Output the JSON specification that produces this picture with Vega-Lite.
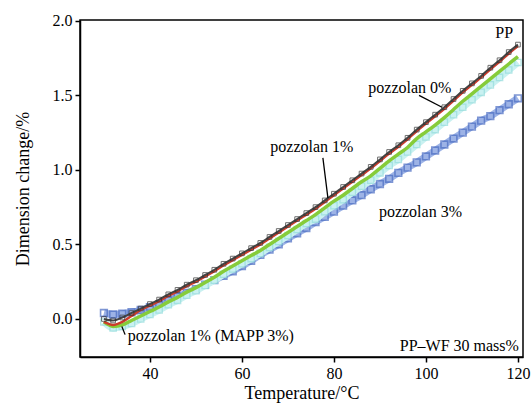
{
  "$schema": "https://vega.github.io/schema/vega-lite/v6.json",
  "width": 443,
  "height": 337,
  "autosize": "none",
  "padding": {"left": 80, "top": 20, "right": 8, "bottom": 49},
  "background": "white",
  "config": {
    "view": {"stroke": "black", "strokeWidth": 1.5},
    "axis": {"domainColor": "black", "domainWidth": 1.5, "tickColor": "black", "tickWidth": 1.5, "tickSize": 5, "labelFont": "Liberation Serif", "labelFontSize": 16, "labelColor": "black", "titleFont": "Liberation Serif", "titleFontSize": 18, "titleFontWeight": "normal", "titleColor": "black", "grid": false, "labelPadding": 3}
  },
  "datasets": {
    "curves": [
      {"T": 30, "PP": 0.00, "p0": -0.02, "p1": -0.02, "mapp": -0.02, "p3": 0.04},
      {"T": 32, "PP": -0.01, "p0": -0.04, "p1": -0.05, "mapp": -0.06, "p3": 0.03},
      {"T": 34, "PP": 0.01, "p0": -0.02, "p1": -0.04, "mapp": -0.05, "p3": 0.035},
      {"T": 36, "PP": 0.04, "p0": 0.02, "p1": -0.01, "mapp": -0.03, "p3": 0.045},
      {"T": 38, "PP": 0.07, "p0": 0.06, "p1": 0.02, "mapp": 0.00, "p3": 0.06},
      {"T": 40, "PP": 0.10, "p0": 0.09, "p1": 0.05, "mapp": 0.03, "p3": 0.08},
      {"T": 42, "PP": 0.13, "p0": 0.12, "p1": 0.08, "mapp": 0.06, "p3": 0.10},
      {"T": 44, "PP": 0.165, "p0": 0.155, "p1": 0.115, "mapp": 0.095, "p3": 0.125},
      {"T": 46, "PP": 0.195, "p0": 0.185, "p1": 0.145, "mapp": 0.125, "p3": 0.15},
      {"T": 48, "PP": 0.23, "p0": 0.22, "p1": 0.18, "mapp": 0.16, "p3": 0.175},
      {"T": 50, "PP": 0.26, "p0": 0.25, "p1": 0.21, "mapp": 0.19, "p3": 0.20},
      {"T": 52, "PP": 0.295, "p0": 0.285, "p1": 0.245, "mapp": 0.225, "p3": 0.23},
      {"T": 54, "PP": 0.33, "p0": 0.32, "p1": 0.28, "mapp": 0.26, "p3": 0.26},
      {"T": 56, "PP": 0.37, "p0": 0.36, "p1": 0.32, "mapp": 0.30, "p3": 0.29},
      {"T": 58, "PP": 0.405, "p0": 0.395, "p1": 0.355, "mapp": 0.335, "p3": 0.32},
      {"T": 60, "PP": 0.44, "p0": 0.43, "p1": 0.39, "mapp": 0.37, "p3": 0.355},
      {"T": 62, "PP": 0.475, "p0": 0.465, "p1": 0.425, "mapp": 0.405, "p3": 0.39},
      {"T": 64, "PP": 0.51, "p0": 0.50, "p1": 0.46, "mapp": 0.44, "p3": 0.43},
      {"T": 66, "PP": 0.55, "p0": 0.54, "p1": 0.50, "mapp": 0.48, "p3": 0.465},
      {"T": 68, "PP": 0.59, "p0": 0.58, "p1": 0.54, "mapp": 0.52, "p3": 0.50},
      {"T": 70, "PP": 0.63, "p0": 0.62, "p1": 0.58, "mapp": 0.56, "p3": 0.54},
      {"T": 72, "PP": 0.67, "p0": 0.66, "p1": 0.62, "mapp": 0.60, "p3": 0.575},
      {"T": 74, "PP": 0.71, "p0": 0.70, "p1": 0.66, "mapp": 0.64, "p3": 0.61},
      {"T": 76, "PP": 0.75, "p0": 0.74, "p1": 0.70, "mapp": 0.67, "p3": 0.65},
      {"T": 78, "PP": 0.795, "p0": 0.785, "p1": 0.745, "mapp": 0.72, "p3": 0.685},
      {"T": 80, "PP": 0.84, "p0": 0.83, "p1": 0.79, "mapp": 0.76, "p3": 0.72},
      {"T": 82, "PP": 0.885, "p0": 0.875, "p1": 0.83, "mapp": 0.80, "p3": 0.76},
      {"T": 84, "PP": 0.93, "p0": 0.92, "p1": 0.875, "mapp": 0.85, "p3": 0.795},
      {"T": 86, "PP": 0.975, "p0": 0.965, "p1": 0.92, "mapp": 0.89, "p3": 0.83},
      {"T": 88, "PP": 1.02, "p0": 1.01, "p1": 0.96, "mapp": 0.93, "p3": 0.87},
      {"T": 90, "PP": 1.07, "p0": 1.06, "p1": 1.01, "mapp": 0.98, "p3": 0.905},
      {"T": 92, "PP": 1.12, "p0": 1.11, "p1": 1.06, "mapp": 1.03, "p3": 0.94},
      {"T": 94, "PP": 1.165, "p0": 1.155, "p1": 1.105, "mapp": 1.07, "p3": 0.98},
      {"T": 96, "PP": 1.215, "p0": 1.205, "p1": 1.15, "mapp": 1.12, "p3": 1.015},
      {"T": 98, "PP": 1.27, "p0": 1.26, "p1": 1.21, "mapp": 1.17, "p3": 1.05},
      {"T": 100, "PP": 1.32, "p0": 1.31, "p1": 1.255, "mapp": 1.22, "p3": 1.09},
      {"T": 102, "PP": 1.37, "p0": 1.36, "p1": 1.30, "mapp": 1.27, "p3": 1.13},
      {"T": 104, "PP": 1.42, "p0": 1.41, "p1": 1.35, "mapp": 1.32, "p3": 1.17},
      {"T": 106, "PP": 1.475, "p0": 1.465, "p1": 1.405, "mapp": 1.37, "p3": 1.21},
      {"T": 108, "PP": 1.53, "p0": 1.52, "p1": 1.46, "mapp": 1.42, "p3": 1.25},
      {"T": 110, "PP": 1.58, "p0": 1.57, "p1": 1.51, "mapp": 1.47, "p3": 1.29},
      {"T": 112, "PP": 1.63, "p0": 1.62, "p1": 1.56, "mapp": 1.52, "p3": 1.33},
      {"T": 114, "PP": 1.685, "p0": 1.675, "p1": 1.61, "mapp": 1.57, "p3": 1.36},
      {"T": 116, "PP": 1.735, "p0": 1.725, "p1": 1.66, "mapp": 1.62, "p3": 1.40},
      {"T": 118, "PP": 1.79, "p0": 1.78, "p1": 1.71, "mapp": 1.67, "p3": 1.44},
      {"T": 120, "PP": 1.84, "p0": 1.83, "p1": 1.76, "mapp": 1.72, "p3": 1.48}
    ],
    "labels": [
      {"x": 117.0, "y": 1.92, "text": "PP", "align": "center"},
      {"x": 96.5, "y": 1.55, "text": "pozzolan 0%", "align": "center"},
      {"x": 75.2, "y": 1.15, "text": "pozzolan 1%", "align": "center"},
      {"x": 98.8, "y": 0.72, "text": "pozzolan 3%", "align": "center"},
      {"x": 35.2, "y": -0.115, "text": "pozzolan 1% (MAPP 3%)", "align": "left"},
      {"x": 120.2, "y": -0.18, "text": "PP–WF 30 mass%", "align": "right"}
    ],
    "leaders": [
      {"x": 98.5, "y": 1.50, "x2": 103.5, "y2": 1.42},
      {"x": 77.6, "y": 1.08, "x2": 78.7, "y2": 0.81},
      {"x": 33.9, "y": -0.05, "x2": 34.6, "y2": -0.105}
    ]
  },
  "encoding": {
    "x": {"field": "T", "type": "quantitative", "scale": {"domain": [24.8, 121.1], "nice": false, "zero": false}, "axis": {"values": [40, 60, 80, 100, 120], "title": "Temperature/°C", "titlePadding": 3}}
  },
  "layer": [
    {"data": {"name": "curves"}, "mark": {"type": "line", "color": "#9db3e6", "strokeWidth": 7, "interpolate": "monotone"}, "encoding": {"y": {"field": "p3", "type": "quantitative", "scale": {"domain": [-0.255, 2.005], "nice": false, "zero": false}, "axis": {"values": [0, 0.5, 1, 1.5, 2], "format": ".1f", "title": "Dimension change/%", "titlePadding": 20}}}},
    {"data": {"name": "curves"}, "mark": {"type": "point", "shape": "square", "filled": false, "stroke": "#4a6cc2", "strokeWidth": 1.6, "size": 45}, "encoding": {"y": {"field": "p3", "type": "quantitative"}}},
    {"data": {"name": "curves"}, "mark": {"type": "line", "color": "#c9f1f1", "strokeWidth": 7, "interpolate": "monotone"}, "encoding": {"y": {"field": "mapp", "type": "quantitative"}}},
    {"data": {"name": "curves"}, "mark": {"type": "point", "shape": "square", "filled": false, "stroke": "#94dcdc", "strokeWidth": 1.3, "size": 40}, "encoding": {"y": {"field": "mapp", "type": "quantitative"}}},
    {"data": {"name": "curves"}, "mark": {"type": "line", "color": "#86cc3a", "strokeWidth": 3.5, "interpolate": "monotone"}, "encoding": {"y": {"field": "p1", "type": "quantitative"}}},
    {"data": {"name": "curves"}, "mark": {"type": "line", "color": "#cc3b2a", "strokeWidth": 2.5, "interpolate": "monotone"}, "encoding": {"y": {"field": "p0", "type": "quantitative"}}},
    {"data": {"name": "curves"}, "mark": {"type": "line", "color": "#444444", "strokeWidth": 2, "interpolate": "monotone"}, "encoding": {"y": {"field": "PP", "type": "quantitative"}}},
    {"data": {"name": "curves"}, "mark": {"type": "point", "shape": "square", "filled": false, "stroke": "#333333", "strokeWidth": 1, "size": 22}, "encoding": {"y": {"field": "PP", "type": "quantitative"}}},
    {"data": {"name": "leaders"}, "mark": {"type": "rule", "color": "black", "strokeWidth": 1.3}, "encoding": {"x": {"field": "x", "type": "quantitative"}, "y": {"field": "y", "type": "quantitative"}, "x2": {"field": "x2"}, "y2": {"field": "y2"}}},
    {"data": {"name": "labels"}, "transform": [{"filter": "datum.align == 'center'"}], "mark": {"type": "text", "font": "Liberation Serif", "fontSize": 16, "color": "black", "baseline": "middle", "align": "center"}, "encoding": {"x": {"field": "x", "type": "quantitative"}, "y": {"field": "y", "type": "quantitative"}, "text": {"field": "text"}}},
    {"data": {"name": "labels"}, "transform": [{"filter": "datum.align == 'left'"}], "mark": {"type": "text", "font": "Liberation Serif", "fontSize": 16, "color": "black", "baseline": "middle", "align": "left"}, "encoding": {"x": {"field": "x", "type": "quantitative"}, "y": {"field": "y", "type": "quantitative"}, "text": {"field": "text"}}},
    {"data": {"name": "labels"}, "transform": [{"filter": "datum.align == 'right'"}], "mark": {"type": "text", "font": "Liberation Serif", "fontSize": 16, "color": "black", "baseline": "middle", "align": "right"}, "encoding": {"x": {"field": "x", "type": "quantitative"}, "y": {"field": "y", "type": "quantitative"}, "text": {"field": "text"}}}
  ]
}
